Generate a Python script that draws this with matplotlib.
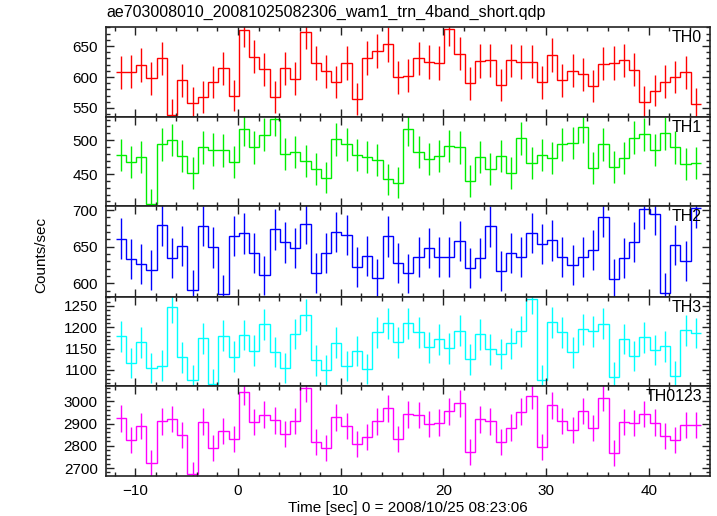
import numpy as np
import matplotlib
matplotlib.use("Agg")
import matplotlib.pyplot as plt
from matplotlib.ticker import MultipleLocator

plt.rcParams['font.family'] = ['Liberation Sans', 'DejaVu Sans']

title = "ae703008010_20081025082306_wam1_trn_4band_short.qdp"
xlabel = "Time [sec] 0 = 2008/10/25 08:23:06"
ylabel = "Counts/sec"

t_start = -11.42
bin_size = 1.0

names = ["TH0", "TH1", "TH2", "TH3", "TH0123"]
colors = ["#ff0000", "#00ee00", "#0000ff", "#00ffff", "#ff00ff"]

th0 = [607.3, 608.4, 619.2, 597.6, 630.5, 538.6, 594.9, 558.6, 567.3, 592.0,
       614.3, 570.0, 676.5, 632.7, 612.2, 567.3, 614.3, 597.0, 672.7, 622.4,
       609.0, 592.0, 622.4, 565.0, 630.5, 641.9, 652.7, 599.7, 601.9, 630.5,
       624.6, 622.4, 677.6, 637.6, 590.0, 625.7, 626.8, 586.8, 626.8, 624.0,
       624.6, 591.6, 635.4, 594.9, 610.5, 604.6, 585.7, 621.4, 622.4, 626.8,
       611.6, 559.2, 578.1, 592.7, 599.7, 607.3, 557.0]
th0_err = [27.0, 26.8, 27.0, 26.5, 26.8, 26.0, 26.5, 26.0, 25.7, 26.5,
           26.5, 25.7, 27.5, 27.0, 26.5, 25.7, 26.5, 26.8, 27.5, 27.0,
           27.0, 26.5, 27.0, 26.0, 27.0, 27.0, 27.8, 26.5, 26.5, 26.8,
           27.3, 27.0, 27.5, 27.0, 26.5, 27.0, 26.5, 26.2, 26.5, 27.6,
           27.0, 26.5, 27.0, 26.5, 27.0, 26.5, 26.0, 27.0, 27.0, 27.0,
           26.5, 25.7, 25.7, 26.2, 26.0, 26.0, 25.0]

th1 = [477.6, 468.3, 474.6, 405.9, 493.7, 500.0, 476.1, 451.7, 489.3, 485.9,
       484.9, 467.3, 515.6, 489.3, 507.8, 530.2, 479.0, 482.0, 469.8, 457.6,
       444.9, 501.0, 493.7, 478.0, 474.6, 471.2, 442.4, 437.6, 515.6, 482.4,
       471.7, 476.6, 491.2, 489.3, 440.0, 474.6, 458.0, 476.1, 452.2, 502.4,
       466.8, 478.0, 473.7, 493.7, 495.6, 519.5, 458.5, 493.7, 460.5, 473.7,
       503.4, 508.3, 485.4, 509.8, 489.3, 464.9, 465.9]
th1_err = [23.6, 23.4, 23.5, 22.6, 23.8, 23.9, 23.6, 23.3, 23.7, 23.7,
           23.7, 23.4, 24.1, 23.7, 24.0, 24.3, 23.6, 23.6, 23.5, 23.3,
           23.1, 23.9, 23.8, 23.6, 23.5, 23.5, 23.1, 23.0, 24.1, 23.6,
           23.5, 23.6, 23.8, 23.7, 23.0, 23.5, 23.3, 23.6, 23.3, 23.9,
           23.4, 23.6, 23.5, 23.8, 23.8, 24.1, 23.3, 23.8, 23.3, 23.5,
           23.9, 24.0, 23.7, 24.0, 23.7, 23.4, 23.4]

th2 = [660.9, 633.2, 626.4, 618.2, 679.1, 634.5, 650.5, 591.4, 678.2, 649.1,
       585.0, 664.5, 668.2, 640.9, 610.9, 673.6, 655.9, 648.6, 681.4, 614.1,
       641.4, 670.0, 665.9, 621.8, 636.8, 606.8, 664.1, 627.3, 613.6, 635.9,
       648.2, 635.5, 635.9, 657.7, 620.5, 634.1, 677.7, 616.8, 640.9, 635.5,
       668.6, 654.1, 658.6, 635.5, 625.5, 636.4, 645.9, 690.5, 605.9, 634.1,
       656.4, 701.8, 694.1, 586.8, 652.7, 630.5, 703.0]
th2_err = [27.6, 27.3, 27.2, 27.1, 27.8, 27.3, 27.5, 26.9, 27.8, 27.5,
           26.8, 27.6, 27.7, 27.4, 27.0, 27.7, 27.5, 27.4, 27.8, 27.1,
           27.4, 27.7, 27.6, 27.2, 27.3, 27.0, 27.6, 27.2, 27.1, 27.3,
           27.4, 27.3, 27.3, 27.5, 27.2, 27.3, 27.8, 27.1, 27.4, 27.3,
           27.7, 27.5, 27.6, 27.3, 27.2, 27.3, 27.4, 27.9, 27.0, 27.3,
           27.5, 28.0, 27.9, 26.9, 27.5, 27.3, 28.0]

th3 = [1178.9, 1116.4, 1164.8, 1103.9, 1110.2, 1246.9, 1129.7, 1075.8, 1174.2, 1066.4,
       1180.5, 1131.3, 1182.0, 1145.3, 1207.0, 1142.2, 1103.9, 1184.4, 1228.9, 1122.7,
       1099.2, 1164.1, 1108.6, 1144.5, 1102.3, 1188.3, 1209.4, 1164.8, 1209.4, 1188.3,
       1153.1, 1171.9, 1150.8, 1191.4, 1125.0, 1183.6, 1148.4, 1137.5, 1162.5, 1190.6,
       1267.2, 1076.6, 1211.7, 1188.3, 1141.4, 1195.3, 1190.6, 1208.6, 1084.4, 1172.7,
       1132.8, 1176.6, 1146.9, 1155.5, 1085.2, 1193.0, 1186.7]
th3_err = [36.2, 35.6, 36.0, 35.5, 35.5, 36.8, 35.8, 35.3, 36.1, 35.2,
           36.2, 35.8, 36.2, 35.9, 36.4, 35.9, 35.5, 36.2, 36.6, 35.7,
           35.5, 36.0, 35.5, 35.9, 35.5, 36.2, 36.4, 36.0, 36.4, 36.2,
           35.9, 36.1, 35.9, 36.3, 35.7, 36.2, 35.9, 35.8, 36.0, 36.2,
           37.0, 35.3, 36.5, 36.2, 35.9, 36.3, 36.2, 36.4, 35.4, 36.1,
           35.8, 36.1, 35.9, 36.0, 35.4, 36.3, 36.2]

th0123 = [2923.5, 2824.6, 2887.6, 2722.6, 2910.0, 2920.5, 2848.6, 2671.7, 2908.5, 2788.6,
          2865.0, 2832.0, 3043.5, 2907.0, 2940.0, 2914.5, 2853.0, 2911.5, 3058.5, 2815.6,
          2790.0, 2928.0, 2889.0, 2808.0, 2841.0, 2910.0, 2968.5, 2829.0, 2941.5, 2938.5,
          2898.0, 2904.0, 2955.0, 2991.0, 2772.0, 2919.0, 2910.0, 2815.6, 2881.6, 2953.5,
          3025.5, 2796.0, 2982.0, 2911.5, 2869.6, 2956.5, 2878.6, 3016.5, 2769.0, 2907.0,
          2902.5, 2943.0, 2904.0, 2842.6, 2824.6, 2893.6, 2893.6]
th0123_err = [59.6, 58.6, 59.2, 57.6, 59.4, 59.5, 58.8, 57.0, 59.4, 58.3,
              59.0, 58.7, 60.7, 59.4, 59.7, 59.4, 58.9, 59.4, 60.8, 58.5,
              58.3, 59.6, 59.2, 58.5, 58.8, 59.4, 60.0, 58.7, 59.8, 59.7,
              59.3, 59.4, 59.9, 60.2, 58.1, 59.5, 59.4, 58.5, 59.2, 59.9,
              60.5, 58.4, 60.1, 59.4, 59.0, 59.9, 59.1, 60.4, 58.1, 59.4,
              59.3, 59.7, 59.4, 58.8, 58.6, 59.2, 59.2]

series = [th0, th1, th2, th3, th0123]
errors = [th0_err, th1_err, th2_err, th3_err, th0123_err]

ylims = [(535.4, 680.8), (403.4, 533.7), (581.4, 705.5), (1062.5, 1271.0), (2664.0, 3069.0)]
ymajor = [50, 50, 50, 50, 100]
yminor = [10, 10, 10, 10, 20]
xlim = (-12.85, 45.96)

W, H = 717, 516
fig = plt.figure(figsize=(W / 100, H / 100), dpi=100)
edges_px = [27, 117, 206, 297, 386, 476]
left_px, right_px = 106, 710

n = len(series[0])
centers = t_start + bin_size * np.arange(n)
edges = t_start - bin_size / 2 + bin_size * np.arange(n + 1)

for k in range(5):
    top = edges_px[k]
    bot = edges_px[k + 1]
    ax = fig.add_axes([left_px / W, 1 - bot / H, (right_px - left_px) / W, (bot - top) / H])
    y = np.array(series[k])
    e = np.array(errors[k])
    ax.stairs(y, edges, baseline=None, color=colors[k], linewidth=1.0)
    ax.errorbar(centers, y, yerr=e, fmt='none', ecolor=colors[k], elinewidth=1.0, capsize=0)
    ax.set_xlim(*xlim)
    ax.set_ylim(*ylims[k])
    ax.xaxis.set_major_locator(MultipleLocator(10))
    ax.xaxis.set_minor_locator(MultipleLocator(2))
    ax.yaxis.set_major_locator(MultipleLocator(ymajor[k]))
    ax.yaxis.set_minor_locator(MultipleLocator(yminor[k]))
    ax.tick_params(which='both', direction='in', top=True, right=True, width=1.0, color='#222222')
    ax.tick_params(which='major', length=6)
    ax.tick_params(which='minor', length=3)
    ax.tick_params(axis='y', labelsize=11, pad=6)
    ax.tick_params(axis='x', labelsize=11, pad=6)
    for sp in ax.spines.values():
        sp.set_linewidth(1.2)
        sp.set_color('#222222')
    if k < 4:
        ax.tick_params(axis='x', labelbottom=False)
    ax.text(1 - 8 / (right_px - left_px), 1 - 3 / (bot - top), names[k],
            transform=ax.transAxes, ha='right', va='top', fontsize=11.5)

fig.text(left_px / W, 1 - 12 / H, title, ha='left', va='center', fontsize=11.5)
fig.text((left_px + right_px) / 2 / W, 1 - 508 / H, xlabel, ha='center', va='center', fontsize=11)
fig.text(41 / W, 1 - 255 / H, ylabel, ha='center', va='center', rotation=90, fontsize=11)

fig.savefig("out.png", dpi=100)
